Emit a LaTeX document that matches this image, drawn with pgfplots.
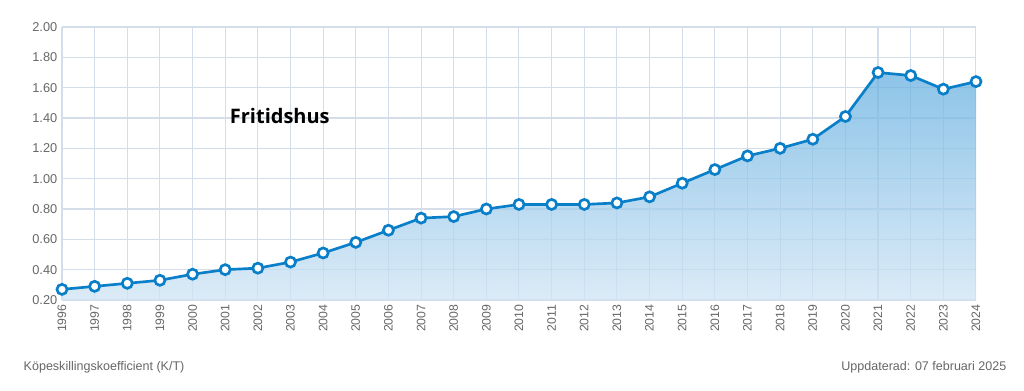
\documentclass[border=0pt]{standalone}
\usepackage{fontspec}
\setmainfont{Liberation Sans}
\newfontfamily\titlefont{Open Sans}
\usepackage{pgfplots}
\pgfplotsset{compat=1.18}
\definecolor{linec}{HTML}{0A7FC9}
\definecolor{gridc}{HTML}{D3DEEA}
\definecolor{labc}{HTML}{666666}
\definecolor{topc}{HTML}{67B0E0}
\definecolor{botc}{HTML}{D0E4F4}
\begin{document}
\begin{tikzpicture}[x=0.75pt,y=0.75pt]
\path (0,0) rectangle (1024,391);
\begin{axis}[
  at={(62*0.75pt,91*0.75pt)}, anchor=south west,
  scale only axis, width=914*0.75pt, height=273*0.75pt,
  xmin=1996, xmax=2024, ymin=0.2, ymax=2.0,
  xtick={1996,...,2024}, ytick={0.2,0.4,...,2.01},
  grid=major, major grid style={gridc, line width=0.8pt},
  axis line style={gridc, line width=1pt},
  axis x line*=bottom, axis y line*=left,
  tick style={draw=none},
  x tick label style={rotate=90, anchor=east, font=\fontsize{9.2}{10}\selectfont, text=labc},
  y tick label style={font=\fontsize{9.6}{10}\selectfont, text=labc},
  xticklabel={\pgfmathprintnumber[1000 sep=]{\tick}},
  yticklabel style={/pgf/number format/.cd, fixed, fixed zerofill, precision=2},
  /pgf/number format/assume math mode=true,
  clip=false,
]
\addplot[draw=none, fill opacity=0.75, top color=topc, bottom color=botc, shading=axis] coordinates {
(1996,0.27)(1997,0.29)(1998,0.31)(1999,0.33)(2000,0.37)(2001,0.40)(2002,0.41)(2003,0.45)(2004,0.51)(2005,0.58)(2006,0.66)(2007,0.74)(2008,0.75)(2009,0.80)(2010,0.83)(2011,0.83)(2012,0.83)(2013,0.84)(2014,0.88)(2015,0.97)(2016,1.06)(2017,1.15)(2018,1.20)(2019,1.26)(2020,1.41)(2021,1.70)(2022,1.68)(2023,1.59)(2024,1.64)
} \closedcycle;
\addplot[linec, line width=2pt, mark=*, mark size=3.8pt, mark options={fill=white, draw=linec, line width=2pt}] coordinates {
(1996,0.27)(1997,0.29)(1998,0.31)(1999,0.33)(2000,0.37)(2001,0.40)(2002,0.41)(2003,0.45)(2004,0.51)(2005,0.58)(2006,0.66)(2007,0.74)(2008,0.75)(2009,0.80)(2010,0.83)(2011,0.83)(2012,0.83)(2013,0.84)(2014,0.88)(2015,0.97)(2016,1.06)(2017,1.15)(2018,1.20)(2019,1.26)(2020,1.41)(2021,1.70)(2022,1.68)(2023,1.59)(2024,1.64)
};
\node[anchor=west, font=\titlefont\bfseries\fontsize{15}{17}\selectfont] at (axis cs:2001.0,1.41) {Fritidshus};
\end{axis}
\node[anchor=west, text=labc, font=\fontsize{9.4}{10}\selectfont] at (19,391-367) {Köpeskillingskoefficient (K/T)};
\node[anchor=east, text=labc, font=\fontsize{9.4}{10}\selectfont] at (1011,391-367) {Uppdaterad: 07 februari 2025};
\end{tikzpicture}
\end{document}
